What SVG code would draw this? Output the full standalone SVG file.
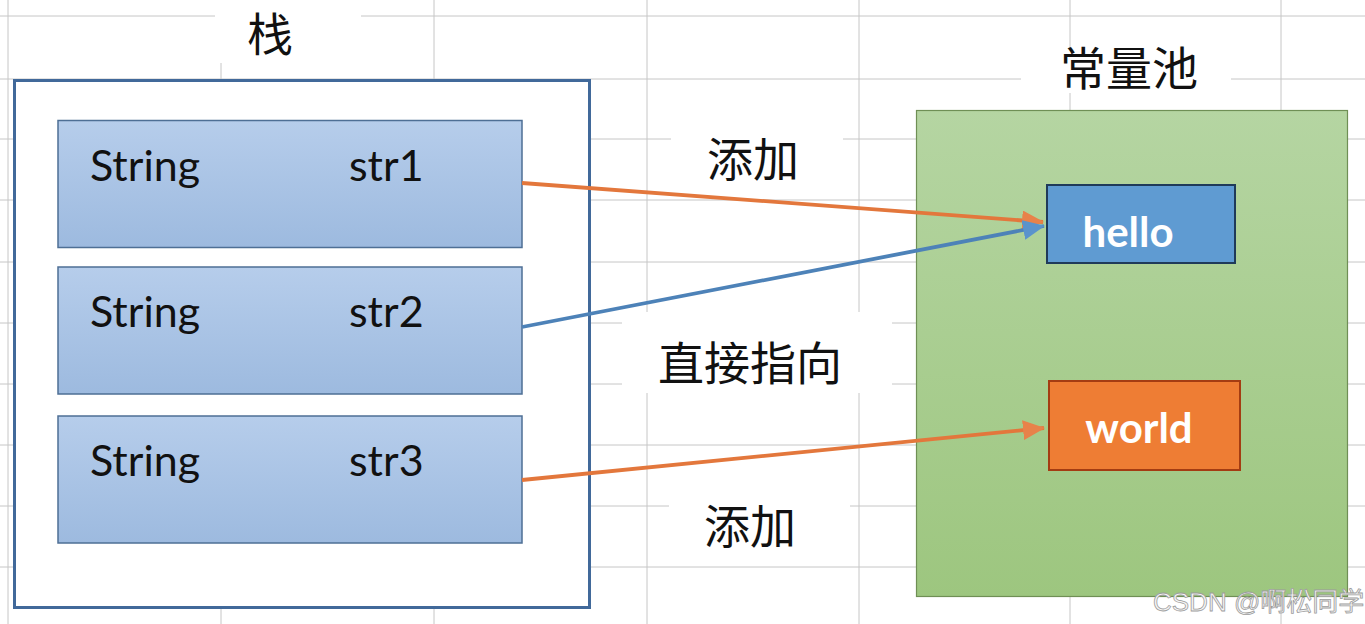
<svg xmlns="http://www.w3.org/2000/svg" width="1365" height="624" viewBox="0 0 1365 624">
  <defs>
    <style>
      .grid line { stroke: #c6c6c6; stroke-width: 1; }
      .mask { fill: #ffffff; }
      .cjk { font-family: "Noto Sans CJK SC", "Noto Sans", sans-serif; font-size: 46px; fill: #111111; text-anchor: middle; }
      .lat { font-family: Lato, "Liberation Sans", Arial, sans-serif; font-size: 43px; fill: #111111; }
      .val { font-family: Lato, "Liberation Sans", Arial, sans-serif; font-weight: bold; font-size: 42px; fill: #ffffff; text-anchor: middle; }
      .slot { fill: url(#slotGrad); stroke: #4e6f95; stroke-width: 1.5; }
      .wm { font-family: "Liberation Sans", "Noto Sans CJK SC", sans-serif; font-size: 26px; fill: #f6f6f6; stroke: #9c9c9c; stroke-width: 0.8; }
    </style>
    <linearGradient id="slotGrad" x1="0" y1="0" x2="0" y2="1">
      <stop offset="0" stop-color="#b6cdeb"/>
      <stop offset="1" stop-color="#9dbadf"/>
    </linearGradient>
    <linearGradient id="poolGrad" x1="0" y1="0" x2="0" y2="1">
      <stop offset="0" stop-color="#b5d5a2"/>
      <stop offset="1" stop-color="#9dc67f"/>
    </linearGradient>
    <marker id="arrOrange" viewBox="0 0 22 20" refX="21" refY="10" markerWidth="22" markerHeight="20" markerUnits="userSpaceOnUse" orient="auto">
      <path d="M0,0 L22,10 L0,20 Z" fill="#e8824a"/>
    </marker>
    <marker id="arrBlue" viewBox="0 0 22 20" refX="21" refY="10" markerWidth="22" markerHeight="20" markerUnits="userSpaceOnUse" orient="auto">
      <path d="M0,0 L22,10 L0,20 Z" fill="#5a93cc"/>
    </marker>
  </defs>

  <rect x="0" y="0" width="1365" height="624" fill="#ffffff"/>

  <g class="grid" id="grid">
    <line x1="0" y1="16" x2="1365" y2="16"/>
    <line x1="0" y1="79" x2="1365" y2="79"/>
    <line x1="0" y1="139" x2="1365" y2="139"/>
    <line x1="0" y1="200" x2="1365" y2="200"/>
    <line x1="0" y1="262" x2="1365" y2="262"/>
    <line x1="0" y1="323" x2="1365" y2="323"/>
    <line x1="0" y1="384" x2="1365" y2="384"/>
    <line x1="0" y1="445" x2="1365" y2="445"/>
    <line x1="0" y1="506" x2="1365" y2="506"/>
    <line x1="0" y1="567" x2="1365" y2="567"/>
    <line x1="8" y1="0" x2="8" y2="624"/>
    <line x1="221" y1="0" x2="221" y2="624"/>
    <line x1="434" y1="0" x2="434" y2="624"/>
    <line x1="647" y1="0" x2="647" y2="624"/>
    <line x1="859" y1="0" x2="859" y2="624"/>
    <line x1="1070" y1="0" x2="1070" y2="624"/>
    <line x1="1281" y1="0" x2="1281" y2="624"/>
  </g>

  <g id="label-masks">
    <rect class="mask" x="215" y="0" width="146" height="63"/>
    <rect class="mask" x="1021" y="50" width="210" height="43"/>
    <rect class="mask" x="671" y="110" width="172" height="80"/>
    <rect class="mask" x="622" y="312" width="270" height="81"/>
    <rect class="mask" x="669" y="470" width="181" height="75"/>
  </g>

  <g id="stack">
    <rect x="14.5" y="80.5" width="575" height="527" fill="#ffffff" stroke="#41699a" stroke-width="3"/>
    <text class="cjk" x="270" y="51">栈</text>
  </g>

  <g id="slot-str1">
    <rect class="slot" x="58" y="120.5" width="464" height="127"/>
    <text class="lat" x="90" y="181">String</text>
    <text class="lat" x="349" y="181">str1</text>
  </g>
  <g id="slot-str2">
    <rect class="slot" x="58" y="267" width="464" height="127"/>
    <text class="lat" x="90" y="327">String</text>
    <text class="lat" x="349" y="327">str2</text>
  </g>
  <g id="slot-str3">
    <rect class="slot" x="58" y="416" width="464" height="127"/>
    <text class="lat" x="90" y="476">String</text>
    <text class="lat" x="349" y="476">str3</text>
  </g>

  <g id="pool">
    <rect x="916.5" y="110.5" width="431" height="486" fill="url(#poolGrad)" stroke="#6f8f55" stroke-width="1.2"/>
    <text class="cjk" x="1129" y="85">常量池</text>
  </g>

  <g id="hello">
    <rect x="1047" y="185" width="188" height="78" fill="#5f9bd2" stroke="#1f3a5a" stroke-width="2"/>
    <text class="val" x="1128" y="247">hello</text>
  </g>

  <g id="world">
    <rect x="1049" y="381" width="191" height="89" fill="#ee7d34" stroke="#a43c12" stroke-width="2"/>
    <text class="val" x="1139" y="443" fill="#fff6e6">world</text>
  </g>

  <g id="connectors" fill="none" stroke-width="3.8">
    <line x1="522" y1="183" x2="1043" y2="222" stroke="#e3773c" marker-end="url(#arrOrange)"/>
    <line x1="522" y1="327" x2="1044" y2="226" stroke="#4d82b8" marker-end="url(#arrBlue)"/>
    <line x1="522" y1="480" x2="1044" y2="428" stroke="#e3773c" marker-end="url(#arrOrange)"/>
  </g>

  <g id="edge-labels">
    <text class="cjk" x="753" y="176">添加</text>
    <text class="cjk" x="750" y="380">直接指向</text>
    <text class="cjk" x="750" y="543">添加</text>
  </g>

  <text class="wm" x="1153" y="611">CSDN @啊松同学</text>
</svg>
